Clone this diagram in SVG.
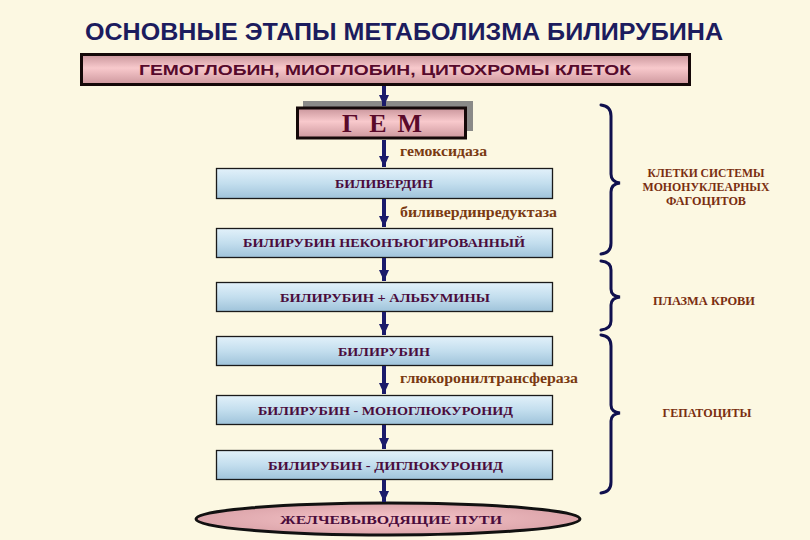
<svg xmlns="http://www.w3.org/2000/svg" width="810" height="540" viewBox="0 0 810 540">
<defs>
<linearGradient id="pink" x1="0" y1="0" x2="0" y2="1">
<stop offset="0" stop-color="#c9959b"/><stop offset="0.45" stop-color="#f8c9cc"/><stop offset="1" stop-color="#cd979d"/>
</linearGradient>
<linearGradient id="blue" x1="0" y1="0" x2="0" y2="1">
<stop offset="0" stop-color="#e2f1fa"/><stop offset="0.5" stop-color="#c3deee"/><stop offset="1" stop-color="#9fc3da"/>
</linearGradient>
<radialGradient id="ell" cx="0.5" cy="0.5" r="0.6">
<stop offset="0" stop-color="#f6c6ca"/><stop offset="1" stop-color="#d79ea4"/>
</radialGradient>
<marker id="ah" markerUnits="userSpaceOnUse" markerWidth="12" markerHeight="10" refX="11" refY="5" orient="auto">
<path d="M0,0 L11,5 L0,10 Z" fill="#1b1b6b"/>
</marker>
<style>
.title{font-family:"Liberation Sans",Arial,sans-serif;font-weight:bold;font-size:23px;fill:#1c1c5e}
.top{font-family:"Liberation Sans",Arial,sans-serif;font-weight:bold;font-size:15px;fill:#560a2c}
.box{fill:url(#blue);stroke:#1a1a1a;stroke-width:1.3}
.lbl{font-family:"Liberation Serif","Times New Roman",serif;font-weight:bold;font-size:13px;fill:#4a0c3c;text-anchor:middle}
.enz{font-family:"Liberation Serif","Times New Roman",serif;font-weight:bold;font-size:14.5px;fill:#7a3a12}
.side{font-family:"Liberation Serif","Times New Roman",serif;font-weight:bold;font-size:11.5px;fill:#7a2e10;text-anchor:middle}
.arr{stroke:#1b1b6b;stroke-width:4;fill:none;marker-end:url(#ah)}
.brace{stroke:#10104e;stroke-width:3;fill:none;stroke-linecap:round}
</style>
</defs>
<rect x="0" y="0" width="810" height="540" fill="#fcf8e2"/>
<text class="title" x="85" y="40" textLength="638" lengthAdjust="spacingAndGlyphs">ОСНОВНЫЕ  ЭТАПЫ  МЕТАБОЛИЗМА  БИЛИРУБИНА</text>

<g id="n-source">
<rect x="81.5" y="54.5" width="608" height="30" fill="url(#pink)" stroke="#140808" stroke-width="3"/>
<text class="top" x="139" y="75" textLength="492" lengthAdjust="spacingAndGlyphs">ГЕМОГЛОБИН, МИОГЛОБИН, ЦИТОХРОМЫ КЛЕТОК</text>
</g>

<g id="n-gem">
<rect x="303" y="101" width="170" height="30" fill="#8a8a88"/>
<rect x="297.5" y="108" width="168" height="30" fill="url(#pink)" stroke="#140808" stroke-width="3"/>
<text x="382" y="132" text-anchor="middle" font-family="'Liberation Serif','Times New Roman',serif" font-weight="bold" font-size="26" fill="#5a0a2a" textLength="80" lengthAdjust="spacing">Г Е М</text>
</g>

<g id="n-biliverdin">
<rect class="box" x="216.5" y="168.5" width="336" height="30"/>
<text class="lbl" x="384" y="188" textLength="98" lengthAdjust="spacingAndGlyphs">БИЛИВЕРДИН</text>
</g>
<g id="n-unconj">
<rect class="box" x="216.5" y="228.5" width="336" height="29"/>
<text class="lbl" x="384" y="247" textLength="282" lengthAdjust="spacingAndGlyphs">БИЛИРУБИН  НЕКОНЪЮГИРОВАННЫЙ</text>
</g>
<g id="n-albumin">
<rect class="box" x="216.5" y="282.5" width="336" height="29"/>
<text class="lbl" x="385" y="302" textLength="210" lengthAdjust="spacingAndGlyphs">БИЛИРУБИН  +  АЛЬБУМИНЫ</text>
</g>
<g id="n-bilirubin">
<rect class="box" x="216.5" y="336.5" width="336" height="29"/>
<text class="lbl" x="384" y="356" textLength="92" lengthAdjust="spacingAndGlyphs">БИЛИРУБИН</text>
</g>
<g id="n-mono">
<rect class="box" x="216.5" y="395.5" width="336" height="29"/>
<text class="lbl" x="385.5" y="415" textLength="255" lengthAdjust="spacingAndGlyphs">БИЛИРУБИН  - МОНОГЛЮКУРОНИД</text>
</g>
<g id="n-di">
<rect class="box" x="216.5" y="450.5" width="336" height="29"/>
<text class="lbl" x="385.5" y="470" textLength="235" lengthAdjust="spacingAndGlyphs">БИЛИРУБИН  - ДИГЛЮКУРОНИД</text>
</g>
<g id="n-bile">
<ellipse cx="388" cy="519" rx="192" ry="16" fill="url(#ell)" stroke="#111" stroke-width="3"/>
<text class="lbl" x="391" y="524" font-size="14" textLength="222" lengthAdjust="spacingAndGlyphs">ЖЕЛЧЕВЫВОДЯЩИЕ  ПУТИ</text>
</g>

<g id="connectors">
<line class="arr" x1="384" y1="86" x2="384" y2="106"/>
<line class="arr" x1="384" y1="140" x2="384" y2="167"/>
<line class="arr" x1="384" y1="199" x2="384" y2="227"/>
<line class="arr" x1="384" y1="258" x2="384" y2="281"/>
<line class="arr" x1="384" y1="312" x2="384" y2="335"/>
<line class="arr" x1="384" y1="366" x2="384" y2="394"/>
<line class="arr" x1="384" y1="425" x2="384" y2="449"/>
<line class="arr" x1="384" y1="480" x2="384" y2="502"/>
<text class="enz" x="400" y="156" textLength="87" lengthAdjust="spacingAndGlyphs">гемоксидаза</text>
<text class="enz" x="400" y="217" textLength="157" lengthAdjust="spacingAndGlyphs">биливердинредуктаза</text>
<text class="enz" x="400" y="383" textLength="178" lengthAdjust="spacingAndGlyphs">глюкоронилтрансфераза</text>
</g>

<g id="braces">
<path class="brace" d="M601 105 Q611 106 611 116 L611 174 Q611 182 620 183 Q611 184 611 192 L611 243 Q611 253 601 254"/>
<path class="brace" d="M601 261 Q611 262 611 270 L611 289 Q611 296 620 297 Q611 298 611 305 L611 321 Q611 329 601 330"/>
<path class="brace" d="M601 335 Q611 336 611 346 L611 405 Q611 412 620 413 Q611 414 611 421 L611 482 Q611 492 601 493"/>
</g>

<g id="side-labels">
<text class="side" x="706" y="177" textLength="117" lengthAdjust="spacingAndGlyphs">КЛЕТКИ СИСТЕМЫ</text>
<text class="side" x="706" y="191" textLength="127" lengthAdjust="spacingAndGlyphs">МОНОНУКЛЕАРНЫХ</text>
<text class="side" x="706" y="205" textLength="80" lengthAdjust="spacingAndGlyphs">ФАГОЦИТОВ</text>
<text class="side" x="704" y="305" textLength="102" lengthAdjust="spacingAndGlyphs">ПЛАЗМА КРОВИ</text>
<text class="side" x="707" y="417" textLength="89" lengthAdjust="spacingAndGlyphs">ГЕПАТОЦИТЫ</text>
</g>
</svg>
